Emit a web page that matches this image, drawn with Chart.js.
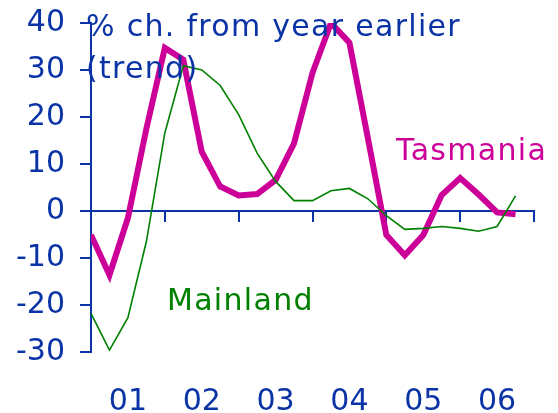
<!DOCTYPE html>
<html>
<head>
<meta charset="utf-8">
<script src="https://cdn.jsdelivr.net/npm/chart.js@4/dist/chart.umd.min.js"></script>
<style>
  html, body { margin: 0; padding: 0; background: #fff; }
  #wrap { width: 558px; height: 413px; }
</style>
</head>
<body>
<div id="wrap"><canvas id="myChart"></canvas></div>
<script>
// quarterly data, % change from year earlier (trend)
var years = ['01', '02', '03', '04', '05', '06'];
var quartersPerYear = 4;
var yTicks = [-30, -20, -10, 0, 10, 20, 30, 40];
var seriesNames = ['Tasmania', 'Mainland'];
var titleLines = ['% ch. from year earlier', '(trend)'];

var tasmania = [-5.1, -13.6, -1.5, 17.5, 34.7, 32.2, 12.6, 5.2, 3.3, 3.6, 6.6, 14.4,
                29.4, 40.0, 35.8, 15.5, -5.1, -9.4, -5.1, 3.4, 7.0, 3.5, -0.3, -0.7];
var mainland = [-21.8, -29.6, -22.7, -6.5, 16.6, 30.9, 30.0, 26.7, 20.5, 12.3, 6.3, 2.2,
                2.2, 4.3, 4.8, 2.6, -1.0, -3.9, -3.7, -3.3, -3.7, -4.3, -3.3, 3.2];

var blue = '#0a33a6';
var magenta = '#cc0099';
var green = '#008000';
var fontFamily = '"DejaVu Sans", Verdana, sans-serif';

function toPoints(arr) {
  return arr.map(function (v, i) { return { x: i, y: v }; });
}

var xMax = years.length * quartersPerYear;

// draws the title and the series labels on top of the lines
var textPlugin = {
  id: 'texts',
  afterDraw: function (chart) {
    var ctx = chart.ctx;
    ctx.save();
    ctx.font = '30px ' + fontFamily;
    ctx.letterSpacing = '1.3px';
    ctx.textAlign = 'left';
    ctx.textBaseline = 'alphabetic';
    ctx.fillStyle = blue;
    ctx.fillText(titleLines[0], 86, 36);
    ctx.fillText(titleLines[1], 86, 78);
    ctx.fillStyle = magenta;
    ctx.fillText(seriesNames[0], 396, 160);
    ctx.fillStyle = green;
    ctx.fillText(seriesNames[1], 167, 310);
    ctx.restore();
  }
};

var ctx = document.getElementById('myChart').getContext('2d');
var myChart = new Chart(ctx, {
  type: 'line',
  data: {
    datasets: [{
      label: seriesNames[0],
      data: toPoints(tasmania),
      borderColor: magenta,
      borderWidth: 6,
      pointRadius: 0,
      tension: 0,
      order: 1
    }, {
      label: seriesNames[1],
      data: toPoints(mainland),
      borderColor: green,
      borderWidth: 1.6,
      pointRadius: 0,
      tension: 0,
      order: 0
    }]
  },
  options: {
    responsive: true,
    maintainAspectRatio: false,
    animation: false,
    layout: { padding: { top: 23, right: 24, left: 0, bottom: 0 } },
    plugins: {
      legend: { display: false },
      tooltip: { enabled: false }
    },
    scales: {
      x: {
        type: 'linear',
        min: 0,
        max: xMax,
        position: 'bottom',
        border: { display: false },
        grid: { display: false },
        afterBuildTicks: function (scale) {
          scale.ticks = years.map(function (y, i) {
            return { value: i * quartersPerYear + quartersPerYear / 2 };
          });
        },
        afterFit: function (scale) {
          scale.height = 61;
          scale.paddingLeft = 0;
          scale.paddingRight = 0;
        },
        ticks: {
          color: blue,
          padding: 24,
          maxRotation: 0,
          autoSkip: false,
          font: { family: fontFamily, size: 30 },
          callback: function (value, index) { return years[index]; }
        }
      },
      xAxis0: {
        axis: 'x',
        type: 'linear',
        min: 0,
        max: xMax,
        position: { y: 0 },
        border: { display: true, color: blue, width: 2 },
        grid: {
          drawOnChartArea: false,
          drawTicks: true,
          tickLength: 10,
          color: blue,
          lineWidth: 2
        },
        afterFit: function (scale) {
          scale.paddingLeft = 0;
          scale.paddingRight = 0;
        },
        ticks: { display: false, stepSize: quartersPerYear }
      },
      y: {
        min: yTicks[0],
        max: yTicks[yTicks.length - 1],
        afterBuildTicks: function (scale) {
          scale.ticks = yTicks.map(function (v) { return { value: v }; });
        },
        afterFit: function (scale) {
          scale.width = 91;
          scale.paddingTop = 0;
          scale.paddingBottom = 0;
        },
        border: { display: true, color: blue, width: 2 },
        grid: {
          drawOnChartArea: false,
          drawTicks: true,
          tickLength: 11,
          color: blue,
          lineWidth: 2
        },
        ticks: {
          color: blue,
          padding: 15,
          font: { family: fontFamily, size: 30 }
        }
      }
    }
  },
  plugins: [textPlugin]
});
</script>
</body>
</html>
